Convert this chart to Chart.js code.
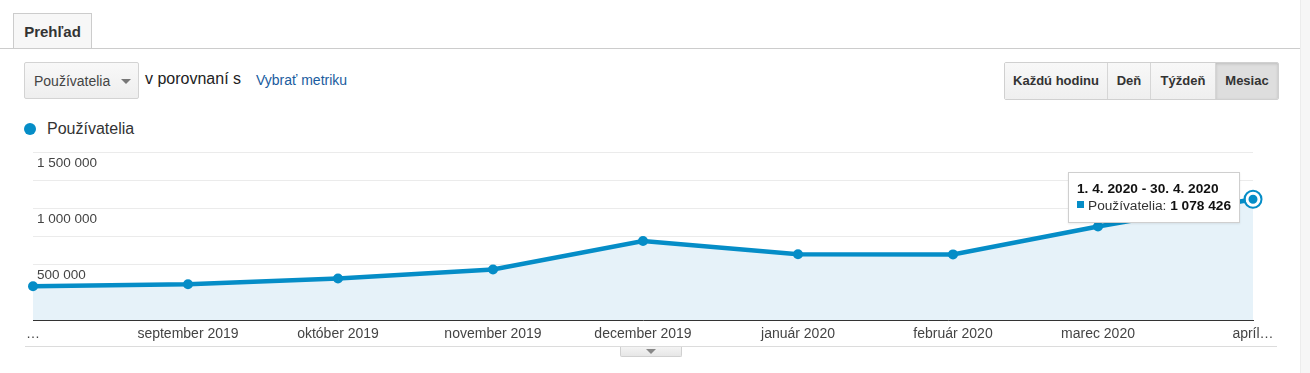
<!DOCTYPE html>
<html>
<head>
<meta charset="utf-8">
<script src="https://cdn.jsdelivr.net/npm/chart.js"></script>
<style>
  body { margin: 0; width: 1310px; height: 373px; background: #fff; font-family: Arial, "Liberation Sans", sans-serif; position: relative; overflow: hidden; }
  .abs { position: absolute; }
  .tab { left: 13px; top: 13px; width: 77px; height: 35px; border: 1px solid #ccc; border-bottom: none; background: #f7f7f7; font-weight: bold; font-size: 15px; color: #333; line-height: 36px; text-align: center; }
  .tabline { left: 0; top: 48px; width: 1300px; height: 1px; background: #ccc; }
  .sidebar { left: 1300px; top: 0; width: 10px; height: 373px; background: #f6f6f6; border-left: 1px solid #ececec; }
  .dropdown { left: 24px; top: 62px; width: 104px; height: 35px; border: 1px solid #d3d3d3; border-radius: 2px; background: linear-gradient(#f8f8f8, #eeeeee); font-size: 14px; color: #444; line-height: 36px; padding-left: 9px; }
  .dropdown .arr { position: absolute; left: 96px; top: 16px; width: 0; height: 0; border-left: 5px solid transparent; border-right: 5px solid transparent; border-top: 5px solid #777; }
  .cmp { left: 145px; top: 70px; font-size: 16px; color: #222; }
  .pick { left: 256px; top: 72px; font-size: 14px; color: #1a5c9e; }
  .btns { left: 1004px; top: 62px; height: 36px; border: 1px solid #d0d0d0; border-radius: 2px; display: flex; overflow: hidden; }
  .btns div { height: 36px; line-height: 36px; font-size: 13px; font-weight: bold; color: #333; background: linear-gradient(#f8f8f8, #efefef); border-left: 1px solid #d6d6d6; text-align: center; }
  .btns div:first-child { border-left: none; }
  .btns div.on { background: #dedede; box-shadow: inset 0 1px 3px rgba(0,0,0,0.15); }
  .legend { left: 24px; top: 120px; font-size: 16px; color: #333; }
  .legend .dot { display: inline-block; width: 12px; height: 12px; border-radius: 50%; background: #058dc7; margin-right: 11px; vertical-align: -1px; }
  .bottomline { left: 25px; top: 346px; width: 1252px; height: 1px; background: #dcdcdc; }
  .handle { left: 620px; top: 347px; width: 60px; height: 9px; border: 1px solid #d0d0d0; border-top: none; border-radius: 0 0 2px 2px; background: linear-gradient(#f4f4f4, #e6e6e6); }
  .handle .arr { position: absolute; left: 25px; top: 2px; width: 0; height: 0; border-left: 5px solid transparent; border-right: 5px solid transparent; border-top: 5px solid #888; }
  #tip { position: absolute; display: none; background: #fff; border: 1px solid #cfcfcf; box-shadow: 0 1px 2px rgba(0,0,0,0.08); padding: 7px 8px 8px 8px; font-size: 13.7px; color: #333; white-space: nowrap; line-height: 17px; z-index: 5; }
  #tip .t { font-weight: bold; color: #111; }
  #tip .sq { display: inline-block; width: 7px; height: 7px; background: #058dc7; margin-right: 4px; vertical-align: 2px; }
  #tip b { color: #111; }
  #wrap { position: absolute; left: 0; top: 140px; width: 1300px; height: 206px; }
</style>
</head>
<body>
<div class="abs tab">Prehľad</div>
<div class="abs tabline"></div>
<div class="abs sidebar"></div>
<div class="abs dropdown">Používatelia<span class="arr"></span></div>
<div class="abs cmp">v porovnaní s</div>
<div class="abs pick">Vybrať metriku</div>
<div class="abs btns">
  <div style="width:102px">Každú hodinu</div>
  <div style="width:42px">Deň</div>
  <div style="width:64px">Týždeň</div>
  <div class="on" style="width:62px">Mesiac</div>
</div>
<div class="abs legend"><span class="dot"></span>Používatelia</div>
<div id="wrap"><canvas id="c"></canvas></div>
<div id="tip"></div>
<div class="abs bottomline"></div>
<div class="abs handle"><span class="arr"></span></div>

<script>
// first day of each month (the x axis is a date axis)
const monthStarts = ['2019-08-01', '2019-09-01', '2019-10-01', '2019-11-01', '2019-12-01',
                     '2020-01-01', '2020-02-01', '2020-03-01', '2020-04-01'];
const tickLabels = ['…', 'september 2019', 'október 2019', 'november 2019', 'december 2019',
                    'január 2020', 'február 2020', 'marec 2020', 'apríl…'];
const users = [302000, 320000, 371000, 451000, 705000, 587000, 586000, 836000, 1078426];
const yTicks = [500000, 1000000, 1500000];
const tipTitle = '1. 4. 2020 - 30. 4. 2020';
const seriesName = 'Používatelia';

const blue = '#058dc7';
const fmt = v => String(v).replace(/\B(?=(\d{3})+(?!\d))/g, ' ');
const dayNum = s => Date.parse(s + 'T00:00:00Z') / 86400000;
const xDays = monthStarts.map(dayNum);

// outer ring on the hovered point
const ringPlugin = {
    id: 'ring',
    afterDatasetsDraw(chart) {
        const ctx = chart.ctx;
        chart.getActiveElements().forEach(a => {
            const p = a.element;
            ctx.save();
            ctx.beginPath();
            ctx.arc(p.x, p.y, 8.5, 0, Math.PI * 2);
            ctx.strokeStyle = blue;
            ctx.lineWidth = 2;
            ctx.stroke();
            ctx.restore();
        });
    }
};

const tipEl = document.getElementById('tip');
function externalTip(context) {
    const t = context.tooltip;
    if (t.opacity === 0) { tipEl.style.display = 'none'; return; }
    const i = t.dataPoints[0].dataIndex;
    tipEl.innerHTML = '<div class="t">' + tipTitle + '</div>' +
        '<div><span class="sq"></span>' + seriesName + ': <b>' + fmt(users[i]) + '</b></div>';
    tipEl.style.display = 'block';
    const box = context.chart.canvas.getBoundingClientRect();
    const w = tipEl.offsetWidth, h = tipEl.offsetHeight;
    tipEl.style.left = (box.left + t.caretX - 13 - w) + 'px';
    tipEl.style.top = (box.top + t.caretY - h / 2 - 2) + 'px';
}

const chart = new Chart(document.getElementById('c'), {
    type: 'line',
    data: {
        datasets: [{
            label: seriesName,
            data: users.map((v, i) => ({ x: xDays[i], y: v })),
            clip: 12,
            borderColor: blue,
            borderWidth: 4.5,
            backgroundColor: '#e6f2f9',
            fill: 'origin',
            tension: 0,
            pointRadius: 5,
            pointBackgroundColor: blue,
            pointBorderWidth: 0,
            pointHoverRadius: 6,
            pointHoverBackgroundColor: blue,
            pointHoverBorderColor: '#fff',
            pointHoverBorderWidth: 3
        }]
    },
    options: {
        responsive: true,
        maintainAspectRatio: false,
        animation: false,
        events: [],
        layout: { padding: { left: 33, right: 47, top: 11, bottom: 0 } },
        plugins: {
            legend: { display: false },
            tooltip: { enabled: false, external: externalTip }
        },
        scales: {
            x: {
                type: 'linear',
                min: xDays[0],
                max: xDays[xDays.length - 1],
                grid: { display: false, drawTicks: false },
                border: { display: true, color: '#333', width: 1 },
                afterBuildTicks: s => { s.ticks = xDays.map(v => ({ value: v })); },
                ticks: {
                    padding: 6,
                    maxRotation: 0,
                    autoSkip: false,
                    color: '#444',
                    font: { family: 'Arial, "Liberation Sans"', size: 14 },
                    callback: v => tickLabels[xDays.indexOf(v)]
                },
                afterFit: s => { s.height = 26; }
            },
            y: {
                min: 0,
                max: 1500000,
                border: { display: false },
                grid: {
                    drawTicks: false,
                    color: c => c.tick.value === 0 ? 'rgba(0,0,0,0)' : '#ebebeb'
                },
                ticks: {
                    stepSize: 250000,
                    mirror: true,
                    padding: 4,
                    labelOffset: 11,
                    color: '#444',
                    font: { family: 'Arial, "Liberation Sans"', size: 13.5 },
                    callback: v => yTicks.includes(v) ? fmt(v) : ''
                },
                afterFit: s => { s.width = 0; }
            }
        }
    },
    plugins: [ringPlugin]
});

const last = users.length - 1;
chart.setActiveElements([{ datasetIndex: 0, index: last }]);
chart.tooltip.setActiveElements([{ datasetIndex: 0, index: last }], { x: 0, y: 0 });
chart.update();
</script>
</body>
</html>
